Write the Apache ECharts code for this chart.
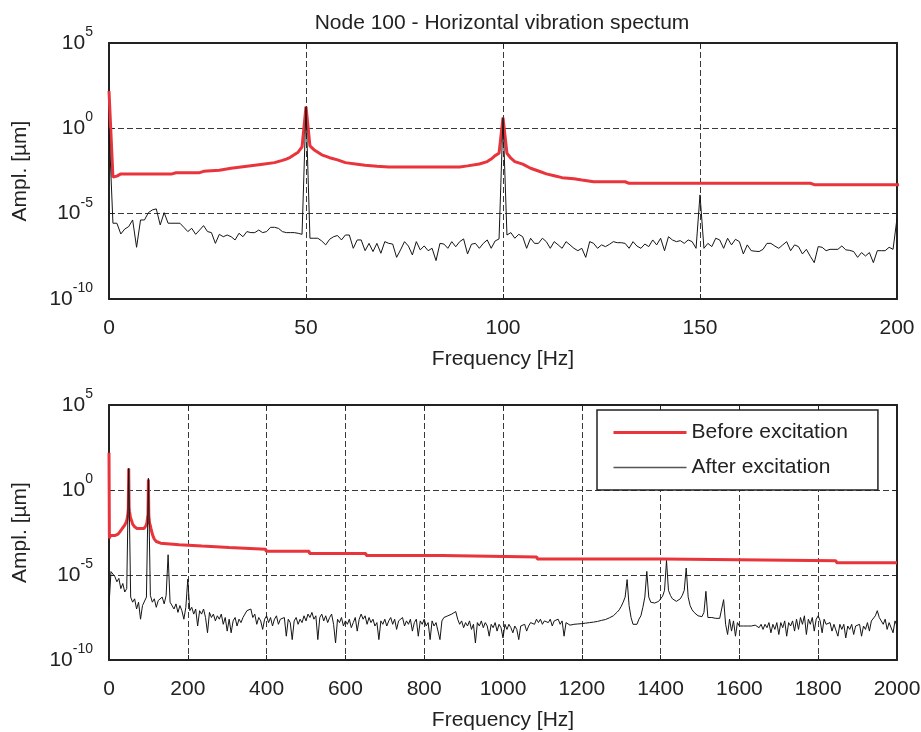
<!DOCTYPE html>
<html><head><meta charset="utf-8">
<script src="https://cdn.jsdelivr.net/npm/echarts@6/dist/echarts.min.js"></script>
<style>html,body{margin:0;padding:0;background:#fff}#c{width:921px;height:732px}</style>
</head><body><div id="c"></div>
<script>
const beforeFreq = [0,1,2,3,16,17,23,24,28,31,34,36,39,42,44,45,46,47,48,49,50,51,52,53,54,56,58,60,63,65,68,71,89,91,94,96,97,98,99,100,101,102,103,105,107,109,111,113,115,118,120,123,131,132,178,179,236,237,305,306,398,399,508,509,652,653,844,845,1086,1087,1408,1410,1845,1847,2000];
const beforeLog = [2.19,-2.85,-2.80,-2.67,-2.67,-2.60,-2.60,-2.52,-2.45,-2.34,-2.25,-2.19,-2.10,-2.01,-1.88,-1.80,-1.70,-1.55,-1.40,-1.08,1.27,-1.03,-1.25,-1.40,-1.55,-1.72,-1.85,-2.01,-2.10,-2.16,-2.22,-2.26,-2.26,-2.20,-2.09,-1.95,-1.80,-1.60,-1.46,0.62,-1.46,-1.75,-1.95,-2.10,-2.34,-2.50,-2.67,-2.78,-2.89,-2.96,-3.03,-3.13,-3.13,-3.22,-3.22,-3.30,-3.30,-3.38,-3.38,-3.48,-3.48,-3.61,-3.61,-3.73,-3.73,-3.85,-3.85,-3.94,-3.94,-4.06,-4.06,-4.16,-4.16,-4.28,-4.28];

// After excitation, top panel: 1 Hz bins, 0..200 Hz
const afterTopStep = 1;
const afterTopLog = [0,
-5.56,-5.56,-6.19,-5.9,-5.76,-5.37,-6.97,-5.37,-5.37,-4.94,
-4.78,-4.72,-5.66,-4.94,-5.56,-5.56,-5.56,-5.56,-5.80,-6.05,
-5.86,-6.21,-5.96,-5.70,-6.05,-6.11,-6.74,-6.21,-6.35,-6.25,
-6.35,-6.54,-6.15,-6.35,-6.05,-6.11,-6.11,-5.96,-6.11,-6.05,
-5.80,-5.80,-5.86,-6.05,-6.11,-6.11,-6.11,-6.15,-6.21,1.27,
-6.44,-6.44,-6.44,-6.6,-6.83,-6.50,-6.35,-6.28,-6.54,-6.25,
-6.25,-7.03,-6.54,-6.54,-7.17,-6.74,-7.22,-6.74,-7.32,-6.64,
-6.74,-6.78,-7.56,-7.12,-6.64,-6.9,-7.42,-6.64,-7.12,-6.89,
-7.17,-7.03,-7.75,-6.74,-6.78,-7.03,-6.64,-6.94,-6.64,-6.48,
-7.36,-6.79,-6.74,-7.03,-6.74,-6.54,-7.03,-6.6,-6.48,0.63,
-6.25,-6.11,-6.44,-6.21,-6.35,-7.03,-6.44,-6.74,-6.74,-6.44,
-6.64,-7.03,-6.64,-6.83,-7.03,-6.64,-6.83,-7.03,-7.17,-7.03,
-7.56,-6.64,-6.74,-7.03,-6.83,-6.93,-6.8,-6.64,-6.7,-6.7,
-6.74,-7.03,-6.64,-6.9,-7.03,-6.78,-6.93,-6.54,-6.83,-6.44,
-7.17,-6.35,-6.54,-6.64,-6.58,-6.74,-6.54,-6.64,-7.03,-3.90,
-7.03,-6.74,-6.93,-6.44,-6.54,-7.03,-6.44,-6.83,-6.50,-6.64,
-7.36,-6.83,-7.17,-7.2,-7.22,-7.09,-6.74,-6.74,-6.9,-7.03,
-6.83,-6.64,-7.17,-6.83,-6.93,-7.36,-7.09,-7.5,-7.87,-6.93,
-6.97,-7.17,-7.09,-7.09,-7.09,-6.89,-7.12,-7.15,-7.22,-7.56,
-7.28,-7.48,-7.28,-7.87,-7.17,-7.17,-7.17,-6.97,-7.09,-5.27];

// After excitation, bottom panel: 5 Hz bins, 0..2000 Hz (20 values per 100 Hz row)
const afterBottomStep = 5;
const afterBottomLog = [
-6.8,-4.8,-4.7,-5.1,-5.4,-5.2,-5.8,-5.5,-6.0,-5.8,1.28,-6.3,-6.6,-6.4,-7.0,-6.6,-7.6,-6.8,-6.9,-6.3,
0.69,-6.2,-6.6,-6.4,-6.9,-6.5,-6.6,-6.3,-6.7,-6.2,-3.81,-6.6,-6.5,-7.0,-6.7,-7.2,-6.8,-7.1,-7.6,-6.9,
-5.24,-7.1,-6.9,-7.3,-7.0,-8.0,-7.1,-7.3,-7.0,-7.5,-8.4,-7.2,-7.5,-7.3,-7.7,-7.4,-7.6,-7.3,-7.9,-7.5,
-8.3,-7.6,-8.4,-7.7,-7.5,-8.0,-7.6,-7.8,-7.5,-7.3,-7.1,-7.2,-7.0,-7.5,-7.3,-7.9,-7.5,-7.7,-8.2,-7.6,
-7.4,-7.8,-7.5,-8.0,-7.6,-7.4,-7.9,-7.6,-7.7,-7.5,-8.6,-7.6,-7.8,-8.8,-7.7,-7.5,-7.9,-7.6,-7.8,-7.4,
-7.7,-7.3,-7.5,-7.2,-7.6,-7.4,-8.8,-7.5,-7.3,-7.7,-7.4,-7.8,-7.5,-7.3,-7.9,-9.0,-7.6,-7.8,-7.5,-8.0,
-7.7,-7.9,-7.6,-8.1,-7.8,-7.5,-8.3,-7.6,-7.3,-7.6,-7.4,-7.9,-7.5,-7.8,-7.6,-8.0,-7.8,-8.8,-7.7,-7.9,
-7.6,-8.0,-7.7,-7.5,-7.9,-7.6,-8.2,-7.7,-7.8,-7.5,-8.0,-7.7,-7.9,-7.6,-8.3,-7.8,-7.6,-8.6,-7.7,-7.9,
-7.6,-8.0,-7.8,-8.8,-7.7,-8.0,-7.8,-7.9,-8.8,-7.7,-7.5,-7.6,-7.4,-7.5,-7.3,-7.4,-7.15,-7.6,-7.9,-7.7,
-8.1,-7.8,-8.0,-7.7,-8.2,-7.9,-9.0,-7.8,-8.0,-7.7,-8.1,-7.8,-8.0,-8.6,-7.9,-8.1,-7.8,-8.3,-7.9,-8.1,
-8.7,-7.9,-8.2,-7.9,-8.1,-8.4,-8.0,-8.2,-8.8,-8.0,-8.1,-7.9,-8.3,-8.0,-7.8,-7.7,-7.9,-7.6,-7.8,-7.6,
-7.9,-7.7,-7.6,-7.8,-7.6,-8.0,-7.7,-7.8,-7.6,-7.9,-7.7,-8.6,-7.8,-7.9,-7.95,-7.93,-7.9,-7.9,-7.88,-7.86,
-7.86,-7.84,-7.83,-7.82,-7.80,-7.79,-7.77,-7.75,-7.73,-7.70,-7.67,-7.65,-7.62,-7.58,-7.52,-7.47,-7.40,-7.30,-7.18,-7.05,
-6.85,-6.60,-6.3,-5.27,-6.8,-7.5,-7.9,-8.0,-7.9,-7.6,-7.4,-6.9,-6.3,-4.79,-6.3,-6.6,-6.65,-6.65,-6.6,-6.55,
-6.45,-6.25,-5.9,-4.15,-5.9,-6.2,-6.4,-6.5,-6.55,-6.5,-6.4,-6.2,-5.9,-4.59,-6.3,-6.8,-7.05,-7.2,-7.3,-7.4,
-7.43,-7.45,-7.2,-5.96,-7.5,-7.55,-7.5,-7.6,-7.55,-7.6,-7.55,-7.5,-6.45,-7.9,-8.5,-7.6,-8.3,-7.7,-8.6,-7.8,
-8.0,-7.9,-8.0,-7.95,-8.0,-7.9,-8.0,-8.05,-7.95,-8.0,-8.1,-7.9,-8.2,-7.9,-8.1,-7.8,-8.4,-7.9,-8.2,-7.8,
-8.5,-7.8,-8.1,-7.7,-8.6,-7.8,-8.0,-7.7,-8.3,-7.6,-8.2,-7.5,-7.9,-7.4,-8.5,-7.6,-7.9,-7.5,-8.3,-7.6,
-7.4,-7.7,-8.4,-7.6,-7.9,-8.0,-7.8,-8.3,-7.9,-8.0,-8.6,-7.9,-8.2,-7.9,-8.7,-8.0,-8.2,-7.9,-8.5,-8.0,
-8.1,-7.9,-8.6,-8.0,-8.2,-7.8,-8.3,-7.7,-7.6,-7.4,-7.1,-7.5,-7.7,-7.9,-7.6,-8.2,-7.8,-7.7,-8.4,-7.7,
-8.0];

const yTickExponents = [-10, -5, 0, 5];
const topFreqRange = [0, 200], topFreqInterval = 50;
const bottomFreqRange = [0, 2000], bottomFreqInterval = 200;
const seriesNames = ['Before excitation', 'After excitation'];
const titleText = 'Node 100 - Horizontal vibration spectum';

const FONT = '"Liberation Sans", Arial, Helvetica, sans-serif';
const FS = 21;
const TXT = '#222';
const RED = '#E8343A';
const BLK = '#151515';

const before = beforeFreq.map((f, i) => [f, beforeLog[i]]);
const afterTop = afterTopLog.map((v, i) => [i * afterTopStep, v]);
const afterBottom = afterBottomLog.map((v, i) => [i * afterBottomStep, v]);

const dash = {color: '#3a3a3a', width: 1, type: [6, 3]};

function xMain(gi, range, interval) {
  return {
    type: 'value', gridIndex: gi, min: range[0], max: range[1], interval: interval,
    name: 'Frequency [Hz]', nameLocation: 'middle', nameGap: 50,
    nameTextStyle: {fontSize: FS, color: TXT, fontFamily: FONT},
    axisLine: {show: true, onZero: false, lineStyle: {color: TXT, width: 2}},
    axisTick: {show: true, inside: true, length: 5, lineStyle: {color: TXT}},
    axisLabel: {fontSize: FS, color: TXT, fontFamily: FONT, margin: 19, formatter: v => String(v)},
    splitLine: {show: true, lineStyle: dash}
  };
}
function xTop(gi, range, interval) {
  return {
    type: 'value', gridIndex: gi, position: 'top', min: range[0], max: range[1], interval: interval,
    axisLine: {show: true, onZero: false, lineStyle: {color: TXT, width: 2}},
    axisTick: {show: true, inside: true, length: 5, lineStyle: {color: TXT}},
    axisLabel: {show: false}, splitLine: {show: false}
  };
}
function yMain(gi) {
  return {
    type: 'value', gridIndex: gi, min: yTickExponents[0], max: yTickExponents[yTickExponents.length - 1], interval: 5,
    name: 'Ampl. [\u00b5m]', nameLocation: 'middle', nameGap: 78, nameRotate: 90,
    nameTextStyle: {fontSize: FS, color: TXT, fontFamily: FONT},
    axisLine: {show: true, onZero: false, lineStyle: {color: TXT, width: 2}},
    axisTick: {show: true, inside: true, length: 5, lineStyle: {color: TXT}},
    axisLabel: {
      margin: 16,
      formatter: v => '{b|10}{s|' + v + '}',
      rich: {
        b: {fontSize: FS, lineHeight: 36, color: TXT, fontFamily: FONT},
        s: {fontSize: 14, lineHeight: 14, verticalAlign: 'top', color: TXT, fontFamily: FONT}
      }
    },
    splitLine: {show: true, lineStyle: dash}
  };
}
function yRight(gi) {
  return {
    type: 'value', gridIndex: gi, position: 'right', min: -10, max: 5, interval: 5,
    axisLine: {show: true, onZero: false, lineStyle: {color: TXT, width: 2}},
    axisTick: {show: true, inside: true, length: 5, lineStyle: {color: TXT}},
    axisLabel: {show: false}, splitLine: {show: false}
  };
}
function redSeries(xi, yi) {
  return {name: seriesNames[0], type: 'line', xAxisIndex: xi, yAxisIndex: yi, data: before,
    symbol: 'none', lineStyle: {color: RED, width: 3}, itemStyle: {color: RED}, clip: true, z: 2};
}
function blackSeries(xi, yi, data) {
  return {name: seriesNames[1], type: 'line', xAxisIndex: xi, yAxisIndex: yi, data: data,
    symbol: 'none', sampling: null, lineStyle: {color: BLK, width: 1}, itemStyle: {color: BLK}, clip: true, z: 3};
}

const chart = echarts.init(document.getElementById('c'), null, {renderer: 'canvas'});
chart.setOption({
  animation: false,
  backgroundColor: '#fff',
  title: {text: titleText, left: 497, top: 8, textAlign: 'center',
    textStyle: {fontSize: FS, fontWeight: 'normal', color: TXT, fontFamily: FONT}},
  legend: {
    data: [
      {name: seriesNames[0], lineStyle: {width: 3, color: RED}},
      {name: seriesNames[1], lineStyle: {width: 1.5, color: '#555'}}
    ],
    left: 597, top: 410, orient: 'vertical',
    padding: [12, 30, 12, 15], itemWidth: 73, itemHeight: 20, itemGap: 14,
    itemStyle: {color: 'rgba(0,0,0,0)', borderWidth: 0, opacity: 0},
    borderColor: TXT, borderWidth: 1.5, backgroundColor: '#fff',
    textStyle: {fontSize: FS, color: TXT, fontFamily: FONT}, selectedMode: false
  },
  grid: [
    {left: 109, right: 24, top: 43, height: 256, show: false, outerBoundsMode: 'none', containLabel: false},
    {left: 109, right: 24, top: 405, height: 255, show: false, outerBoundsMode: 'none', containLabel: false}
  ],
  xAxis: [xMain(0, topFreqRange, topFreqInterval), xTop(0, topFreqRange, topFreqInterval),
          xMain(1, bottomFreqRange, bottomFreqInterval), xTop(1, bottomFreqRange, bottomFreqInterval)],
  yAxis: [yMain(0), yRight(0), yMain(1), yRight(1)],
  series: [redSeries(0, 0), blackSeries(0, 0, afterTop), redSeries(2, 2), blackSeries(2, 2, afterBottom)]
});
</script>
</body></html>
